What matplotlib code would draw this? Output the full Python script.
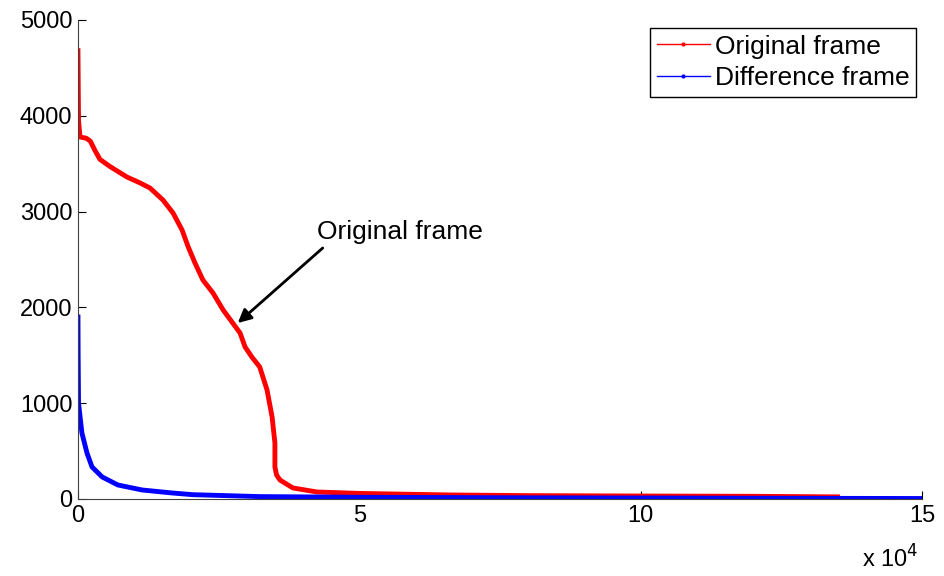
import matplotlib.pyplot as plt
from matplotlib.lines import Line2D

plt.rcParams['font.family'] = ['Liberation Sans', 'DejaVu Sans']

# valores (x en unidades de 1e4)
orig_x = [0.0, 0.005, 0.01, 0.036, 0.15, 0.22, 0.30, 0.39, 0.57, 0.87, 1.10, 1.28,
          1.51, 1.69, 1.85, 1.96, 2.08, 2.22, 2.40, 2.58, 2.75, 2.88, 2.97, 3.09,
          3.23, 3.36, 3.45, 3.50, 3.50, 3.53, 3.59, 3.82, 4.25, 5.01, 6.61, 8.0,
          10.0, 12.0, 13.5]
orig_y = [4680, 4300, 3950, 3779, 3765, 3735, 3640, 3545, 3470, 3361, 3300, 3246,
          3121, 2985, 2808, 2630, 2463, 2286, 2150, 1973, 1837, 1733, 1587, 1482,
          1378, 1138, 856, 585, 334, 250, 198, 115, 73, 58, 42, 35,
          31, 28, 22]

diff_x = [0.0, 0.003, 0.01, 0.07, 0.16, 0.25, 0.43, 0.71, 1.14, 1.67, 2.04, 3.23,
          5.0, 8.0, 12.0, 15.0]
diff_y = [1900, 1500, 1000, 689, 480, 334, 230, 146, 94, 63, 45, 25,
          18, 12, 8, 5]

fig = plt.figure(figsize=(9.44, 5.76), dpi=100)
ax = fig.add_axes([0.0826, 0.1337, 0.8941, 0.8316])

ax.plot(orig_x, orig_y, color='red', lw=3.5, solid_joinstyle='round')
ax.plot(diff_x, diff_y, color='blue', lw=3.5, solid_joinstyle='round')

ax.set_xlim(0, 15)
ax.set_ylim(0, 5000)
ax.set_xticks([0, 5, 10, 15])
ax.set_yticks([0, 1000, 2000, 3000, 4000, 5000])
ax.tick_params(direction='in', length=6, labelsize=17, pad=4)
ax.spines['top'].set_visible(False)
ax.spines['right'].set_visible(False)
for s in ['left', 'bottom']:
    ax.spines[s].set_color('#404040')

ax.text(0.929, -0.144, r'x 10$^4$', transform=ax.transAxes, fontsize=17,
        va='baseline')

ax.text(4.25, 2787, 'Original frame', fontsize=19, va='center')
ax.annotate('', xy=(2.84, 1837), xytext=(4.35, 2620),
            arrowprops=dict(arrowstyle='-|>', color='black', lw=2,
                            shrinkA=0, shrinkB=0, mutation_scale=20))

handles = [Line2D([0], [0], color='red', lw=1, marker='.', markersize=4),
           Line2D([0], [0], color='blue', lw=1, marker='.', markersize=4)]
leg = ax.legend(handles, ['Original frame', 'Difference frame'],
                loc='upper right', bbox_to_anchor=(0.993, 0.983), fontsize=19,
                fancybox=False, edgecolor='black', framealpha=1,
                handlelength=2.0, handletextpad=0.2, borderpad=0.25,
                labelspacing=0.28, borderaxespad=0)
leg.get_frame().set_linewidth(1)

plt.savefig('out.png', dpi=100)
